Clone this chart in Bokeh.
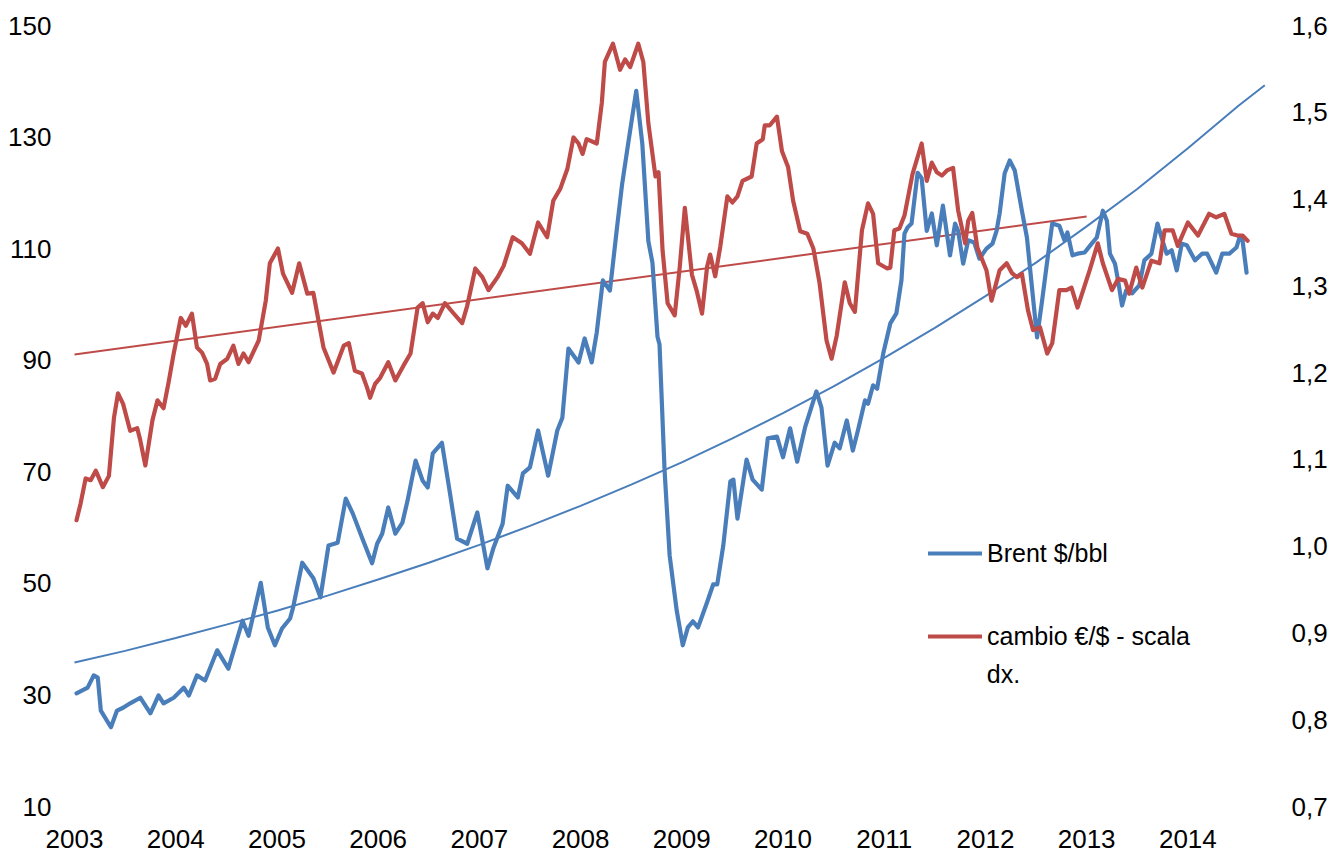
from bokeh.plotting import figure
from bokeh.models import (Range1d, LinearAxis, FixedTicker, CustomJSTickFormatter,
                          Legend, LegendItem, Label)
from bokeh.embed import file_html
from bokeh.resources import INLINE

# ---------------- data ----------------
years = list(range(2003, 2015))
left_ticks = [10, 30, 50, 70, 90, 110, 130, 150]
right_ticks = [0.7, 0.8, 0.9, 1.0, 1.1, 1.2, 1.3, 1.4, 1.5, 1.6]

brent_t = [
    2003.02, 2003.13, 2003.19, 2003.23, 2003.26, 2003.36, 2003.42, 2003.48, 2003.55, 2003.65,
    2003.75, 2003.83, 2003.88, 2003.98, 2004.08, 2004.13, 2004.21, 2004.29, 2004.41, 2004.52,
    2004.66, 2004.72, 2004.84, 2004.91, 2004.98, 2005.05, 2005.13, 2005.16, 2005.25, 2005.36,
    2005.43, 2005.51, 2005.60, 2005.68, 2005.75, 2005.84, 2005.94, 2005.99, 2006.04, 2006.10,
    2006.17, 2006.24, 2006.29, 2006.37, 2006.44, 2006.49, 2006.54, 2006.63, 2006.71, 2006.78,
    2006.88, 2006.98, 2007.08, 2007.14, 2007.23, 2007.28, 2007.38, 2007.43, 2007.50, 2007.58,
    2007.68, 2007.77, 2007.82, 2007.88, 2007.98, 2008.04, 2008.11, 2008.16, 2008.22, 2008.29,
    2008.36, 2008.41, 2008.47, 2008.55, 2008.61, 2008.67, 2008.71, 2008.76, 2008.78, 2008.83,
    2008.88, 2008.95, 2009.01, 2009.06, 2009.11, 2009.16, 2009.25, 2009.31, 2009.35, 2009.41,
    2009.48, 2009.51, 2009.55, 2009.64, 2009.70, 2009.79, 2009.85, 2009.94, 2010.00, 2010.07,
    2010.14, 2010.22, 2010.33, 2010.38, 2010.44, 2010.51, 2010.56, 2010.63, 2010.69, 2010.74,
    2010.81, 2010.84, 2010.89, 2010.93, 2010.99, 2011.06, 2011.12, 2011.17, 2011.20, 2011.23,
    2011.27, 2011.33, 2011.37, 2011.42, 2011.47, 2011.52, 2011.58, 2011.65, 2011.70, 2011.73,
    2011.78, 2011.83, 2011.89, 2011.94, 2012.01, 2012.07, 2012.11, 2012.14, 2012.19, 2012.24,
    2012.29, 2012.36, 2012.41, 2012.46, 2012.51, 2012.56, 2012.62, 2012.66, 2012.73, 2012.78,
    2012.81, 2012.86, 2012.91, 2012.98, 2013.05, 2013.10, 2013.16, 2013.20, 2013.23, 2013.28,
    2013.31, 2013.35, 2013.39, 2013.45, 2013.52, 2013.57, 2013.64, 2013.70, 2013.74, 2013.79,
    2013.84, 2013.89, 2013.94, 2013.99, 2014.07, 2014.14, 2014.19, 2014.28, 2014.34, 2014.41,
    2014.48, 2014.51, 2014.54, 2014.58,
]
brent_v = [
    30.3, 31.3, 33.5, 33.1, 27.2, 24.2, 27.2, 27.7, 28.5, 29.5,
    26.7, 29.9, 28.5, 29.5, 31.3, 29.9, 33.5, 32.6, 38.0, 34.7,
    43.3, 40.6, 50.1, 42.1, 38.9, 41.9, 43.7, 45.7, 53.7, 50.9,
    47.5, 56.8, 57.3, 65.2, 62.5, 58.2, 53.6, 57.1, 58.9, 63.6,
    58.9, 60.9, 64.8, 72.0, 68.4, 67.2, 73.3, 75.2, 66.1, 58.0,
    57.1, 62.7, 52.7, 56.4, 60.7, 67.5, 65.4, 69.7, 70.8, 77.4,
    69.3, 77.4, 79.7, 92.1, 89.6, 93.9, 89.6, 95.0, 104.3, 102.5,
    113.8, 121.5, 128.8, 138.3, 128.8, 111.3, 107.5, 94.2, 92.8, 70.2,
    55.0, 45.1, 38.9, 42.1, 43.2, 42.1, 46.6, 49.8, 49.8, 56.8,
    68.3, 68.6, 61.6, 72.2, 68.6, 66.8, 76.0, 76.3, 72.6, 77.8,
    71.8, 78.1, 84.4, 81.5, 71.1, 75.2, 74.2, 79.2, 73.8, 77.4,
    82.8, 82.2, 85.5, 84.9, 91.2, 96.6, 98.4, 104.3, 112.7, 113.8,
    114.5, 123.6, 122.6, 113.2, 116.3, 110.6, 117.7, 108.8, 114.5, 113.2,
    107.3, 111.5, 111.1, 108.2, 110.0, 110.9, 113.2, 116.3, 123.5, 125.8,
    124.0, 116.8, 112.0, 103.0, 94.1, 100.7, 109.1, 114.5, 114.1, 111.5,
    112.9, 108.8, 109.1, 109.3, 110.9, 112.0, 116.8, 115.0, 109.1, 107.3,
    104.3, 99.8, 102.5, 102.0, 103.4, 107.9, 109.1, 114.5, 112.0, 109.1,
    109.7, 106.1, 110.9, 110.6, 107.9, 109.1, 109.1, 105.7, 109.1, 109.1,
    110.2, 112.0, 111.5, 105.7,
]

eur_t = [
    2003.02, 2003.06, 2003.11, 2003.16, 2003.21, 2003.24, 2003.28, 2003.34, 2003.39, 2003.43,
    2003.48, 2003.55, 2003.62, 2003.65, 2003.70, 2003.77, 2003.82, 2003.88, 2003.93, 2003.98,
    2004.05, 2004.10, 2004.16, 2004.21, 2004.26, 2004.31, 2004.34, 2004.39, 2004.44, 2004.51,
    2004.57, 2004.62, 2004.67, 2004.72, 2004.82, 2004.89, 2004.93, 2005.01, 2005.06, 2005.15,
    2005.22, 2005.30, 2005.36, 2005.46, 2005.56, 2005.66, 2005.71, 2005.77, 2005.84, 2005.89,
    2005.92, 2005.97, 2006.02, 2006.10, 2006.17, 2006.25, 2006.32, 2006.39, 2006.44, 2006.49,
    2006.54, 2006.59, 2006.66, 2006.74, 2006.83, 2006.88, 2006.96, 2007.03, 2007.09, 2007.18,
    2007.24, 2007.33, 2007.42, 2007.50, 2007.58, 2007.67, 2007.73, 2007.80, 2007.87, 2007.93,
    2007.98, 2008.02, 2008.06, 2008.16, 2008.21, 2008.24, 2008.32, 2008.39, 2008.44, 2008.49,
    2008.57, 2008.62, 2008.67, 2008.74, 2008.77, 2008.81, 2008.86, 2008.93, 2008.98, 2009.03,
    2009.10, 2009.15, 2009.20, 2009.25, 2009.28, 2009.33, 2009.38, 2009.45, 2009.50, 2009.55,
    2009.60, 2009.69, 2009.74, 2009.80, 2009.82, 2009.87, 2009.94, 2009.99, 2010.05, 2010.10,
    2010.17, 2010.24, 2010.30, 2010.36, 2010.43, 2010.48, 2010.53, 2010.61, 2010.66, 2010.71,
    2010.78, 2010.84, 2010.89, 2010.94, 2011.03, 2011.06, 2011.10, 2011.15, 2011.20, 2011.28,
    2011.37, 2011.42, 2011.47, 2011.52, 2011.57, 2011.62, 2011.68, 2011.73, 2011.80, 2011.83,
    2011.87, 2011.92, 2012.01, 2012.06, 2012.14, 2012.21, 2012.26, 2012.31, 2012.36, 2012.42,
    2012.47, 2012.54, 2012.61, 2012.66, 2012.73, 2012.80, 2012.85, 2012.91, 2013.03, 2013.11,
    2013.16, 2013.25, 2013.31, 2013.38, 2013.42, 2013.49, 2013.55, 2013.64, 2013.72, 2013.77,
    2013.85, 2013.90, 2014.00, 2014.10, 2014.21, 2014.28, 2014.36, 2014.43, 2014.49, 2014.54,
    2014.59,
]
eur_v = [
    1.030, 1.049, 1.078, 1.076, 1.087, 1.079, 1.068, 1.081, 1.148, 1.176,
    1.164, 1.133, 1.136, 1.122, 1.093, 1.145, 1.168, 1.159, 1.189, 1.222,
    1.263, 1.254, 1.268, 1.229, 1.223, 1.210, 1.191, 1.193, 1.210, 1.216,
    1.231, 1.210, 1.222, 1.212, 1.237, 1.283, 1.326, 1.343, 1.314, 1.292,
    1.326, 1.291, 1.292, 1.229, 1.200, 1.231, 1.234, 1.202, 1.199, 1.183,
    1.171, 1.187, 1.194, 1.212, 1.191, 1.208, 1.222, 1.275, 1.280, 1.258,
    1.268, 1.263, 1.280, 1.269, 1.257, 1.277, 1.320, 1.310, 1.295, 1.310,
    1.323, 1.356, 1.349, 1.337, 1.373, 1.356, 1.398, 1.412, 1.435, 1.471,
    1.464, 1.452, 1.469, 1.464, 1.511, 1.558, 1.579, 1.549, 1.561, 1.552,
    1.579, 1.558, 1.487, 1.426, 1.431, 1.341, 1.280, 1.266, 1.322, 1.390,
    1.313, 1.293, 1.268, 1.322, 1.336, 1.311, 1.345, 1.403, 1.396, 1.403,
    1.421, 1.426, 1.464, 1.469, 1.485, 1.485, 1.495, 1.455, 1.437, 1.398,
    1.363, 1.360, 1.343, 1.304, 1.237, 1.216, 1.242, 1.304, 1.280, 1.270,
    1.364, 1.395, 1.383, 1.326, 1.320, 1.321, 1.364, 1.366, 1.381, 1.429,
    1.464, 1.421, 1.442, 1.431, 1.427, 1.433, 1.436, 1.387, 1.349, 1.375,
    1.384, 1.344, 1.318, 1.283, 1.318, 1.326, 1.315, 1.310, 1.314, 1.272,
    1.249, 1.252, 1.222, 1.234, 1.295, 1.295, 1.298, 1.275, 1.318, 1.349,
    1.326, 1.295, 1.308, 1.306, 1.291, 1.321, 1.298, 1.329, 1.326, 1.364,
    1.364, 1.346, 1.373, 1.358, 1.383, 1.379, 1.383, 1.360, 1.358, 1.358,
    1.352,
]

# trend lines as drawn in the picture
brent_trend_t = [2003.0, 2003.5, 2004.0, 2004.5, 2005.0, 2005.5, 2006.0, 2006.5, 2007.0,
                 2007.5, 2008.0, 2008.5, 2009.0, 2009.5, 2010.0, 2010.5, 2011.0, 2011.5,
                 2012.0, 2012.5, 2013.0, 2013.5, 2014.0, 2014.5, 2014.76]
brent_trend_v = [35.8, 37.9, 40.2, 42.6, 45.1, 47.8, 50.7, 53.7, 56.9,
                 60.3, 63.9, 67.7, 71.7, 76.0, 80.5, 85.3, 90.4, 95.8,
                 101.5, 107.5, 114.0, 120.7, 128.0, 135.6, 139.3]
eur_trend_t = [2003.0, 2013.0]
eur_trend_v = [1.221, 1.380]

series_names = ["Brent $/bbl", "cambio €/$ - scala", "dx."]

# ---------------- styling ----------------
BLUE = "#4A7EBB"
RED = "#BE4B48"
FONT = "Liberation Sans"
TXT = "#000000"
AX_SIZE = "26px"

p = figure(width=1330, height=854, output_backend="svg", toolbar_location=None,
           x_range=Range1d(2002.9605, 2014.8065), y_range=Range1d(10, 150),
           min_border_left=70, min_border_right=60, min_border_top=25, min_border_bottom=48,
           background_fill_color="white", border_fill_color="white")
p.outline_line_color = None
p.xgrid.visible = False
p.ygrid.visible = False
p.extra_y_ranges = {"eur": Range1d(0.7, 1.6)}


def style_axis(ax, standoff):
    ax.axis_line_color = None
    ax.major_tick_line_color = None
    ax.minor_tick_line_color = None
    ax.major_tick_out = 0
    ax.major_tick_in = 0
    ax.minor_tick_out = 0
    ax.minor_tick_in = 0
    ax.major_label_standoff = standoff
    ax.major_label_text_font = FONT
    ax.major_label_text_font_size = AX_SIZE
    ax.major_label_text_color = TXT


# left axis
ya = p.yaxis[0]
ya.ticker = FixedTicker(ticks=left_ticks)
style_axis(ya, 19)

# right axis
ra = LinearAxis(y_range_name="eur", ticker=FixedTicker(ticks=right_ticks),
                formatter=CustomJSTickFormatter(code="return tick.toFixed(1).replace('.', ',');"))
style_axis(ra, 22)
p.add_layout(ra, "right")

# bottom axis
xa = p.xaxis[0]
xa.ticker = FixedTicker(ticks=years)
xa.formatter = CustomJSTickFormatter(code="return tick.toFixed(0);")
style_axis(xa, 23)

# trend lines
p.line(brent_trend_t, brent_trend_v, line_color=BLUE, line_width=2)
p.line(eur_trend_t, eur_trend_v, line_color=RED, line_width=2, y_range_name="eur")

# data series
r_brent = p.line(brent_t, brent_v, line_color=BLUE, line_width=4.2,
                 line_join="round", line_cap="round")
r_eur = p.line(eur_t, eur_v, line_color=RED, line_width=4.2, y_range_name="eur",
               line_join="round", line_cap="round")

legend = Legend(items=[LegendItem(label=series_names[0], renderers=[r_brent]),
                       LegendItem(label=series_names[1], renderers=[r_eur])],
                location=(858, 155), orientation="vertical",
                glyph_width=54, glyph_height=30, label_standoff=5, spacing=53,
                padding=0, margin=0, border_line_color=None, background_fill_alpha=0,
                label_text_font=FONT, label_text_font_size="25px", label_text_color=TXT)
p.add_layout(legend, "center")

p.add_layout(Label(x=2012.013, y=33.8, text=series_names[2],
                   text_font=FONT, text_font_size="25px", text_color=TXT,
                   text_baseline="middle", text_align="left"))

open("out.html", "w").write(file_html(p, INLINE))
